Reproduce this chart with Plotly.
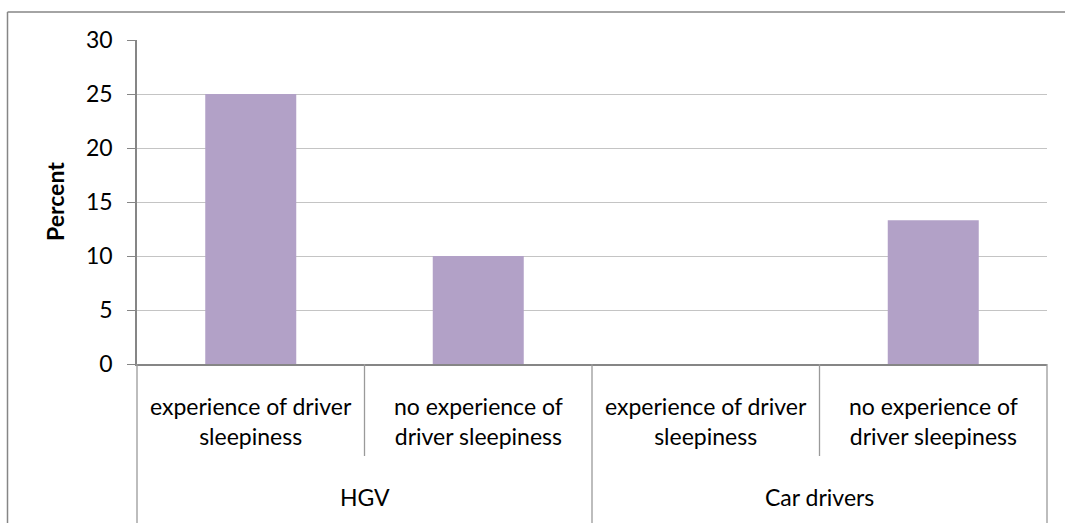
import plotly.graph_objects as go

# Survey shares by driver group and sleepiness experience
groups = ["HGV", "HGV", "Car drivers", "Car drivers"]
conditions = [
    "experience of driver<br>sleepiness",
    "no experience of<br>driver sleepiness",
    "experience of driver<br>sleepiness",
    "no experience of<br>driver sleepiness",
]
percent = [25, 10, 0, 13.3]
y_ticks = [0, 5, 10, 15, 20, 25, 30]

FONT = "Lato"
FS = 23
AXIS_GREY = "#868686"
DIV_GREY = "#9a9a9a"
BAR_COLOR = "#B2A1C7"

W, H = 1065, 523
L, R, T, B = 137, 18, 40, 159
PH = H - T - B
PW = W - L - R

positions = list(range(len(percent)))

fig = go.Figure(
    go.Bar(
        x=positions,
        y=percent,
        marker=dict(color=BAR_COLOR, line=dict(width=0)),
        width=0.4,
        hoverinfo="y",
    )
)


def paper_y(px):
    """Convert a page pixel row to paper units."""
    return (H - B - px) / PH


def paper_x(px):
    return (px - L) / PW


shapes = []
# divider lines of the two-level category axis
for i in range(len(positions) + 1):
    edge = i - 0.5
    if i == 0 or i == len(positions) or groups[i] != groups[i - 1]:
        bottom = paper_y(H)
    else:
        bottom = paper_y(456)
    if i == 0:
        xr, xv = "x domain", 0
    elif i == len(positions):
        xr, xv = "x domain", 1
    else:
        xr, xv = "x", edge
    shapes.append(dict(type="line", xref=xr, yref="paper", x0=xv, x1=xv,
                       y0=0, y1=bottom, line=dict(color=DIV_GREY, width=1.3)))

# chart frame: top and left edges
shapes.append(dict(type="line", xref="paper", yref="paper",
                   x0=paper_x(7.5), x1=paper_x(W), y0=paper_y(12), y1=paper_y(12),
                   line=dict(color=AXIS_GREY, width=1.5)))
shapes.append(dict(type="line", xref="paper", yref="paper",
                   x0=paper_x(7.5), x1=paper_x(7.5), y0=paper_y(12), y1=paper_y(H),
                   line=dict(color=AXIS_GREY, width=1.5)))

annotations = []
for i, c in enumerate(conditions):
    annotations.append(dict(x=i, xref="x", y=paper_y(420.5), yref="paper",
                            text=c, showarrow=False, xanchor="center", yanchor="middle",
                            font=dict(family=FONT, size=FS, color="#000")))

seen = []
for g in groups:
    if g not in seen:
        seen.append(g)
for g in seen:
    idx = [i for i, gg in enumerate(groups) if gg == g]
    annotations.append(dict(x=sum(idx) / len(idx), xref="x", y=paper_y(497), yref="paper",
                            text=g, showarrow=False, xanchor="center", yanchor="middle",
                            font=dict(family=FONT, size=FS, color="#000")))

annotations.append(dict(x=paper_x(55), xref="paper", y=0.5, yref="paper",
                        text="<b>Percent</b>", textangle=-90, showarrow=False,
                        xanchor="center", yanchor="middle",
                        font=dict(family=FONT, size=FS, color="#000")))

fig.update_layout(
    width=W, height=H,
    margin=dict(l=L, r=R, t=T, b=B, pad=0),
    paper_bgcolor="white", plot_bgcolor="white",
    showlegend=False,
    bargap=0.6,
    shapes=shapes,
    annotations=annotations,
    font=dict(family=FONT, size=FS, color="#000"),
    xaxis=dict(
        range=[-0.5, len(percent) - 0.5],
        showticklabels=False, ticks="",
        showgrid=False, zeroline=False,
        showline=True, linecolor=AXIS_GREY, linewidth=1.5,
        fixedrange=True,
    ),
    yaxis=dict(
        range=[0, 30],
        tickvals=y_ticks,
        ticks="outside", ticklen=8, tickcolor=AXIS_GREY, tickwidth=1.3,
        ticklabelstandoff=10,
        showgrid=True, gridcolor="#C4C4C4", gridwidth=1.2,
        zeroline=False,
        showline=True, linecolor=AXIS_GREY, linewidth=1.5,
        tickfont=dict(family=FONT, size=FS, color="#000"),
        fixedrange=True,
    ),
)

fig.write_html(
    "out.html",
    config={"displayModeBar": False},
    post_script="document.documentElement.style.overflow='hidden';"
                "document.body.style.overflow='hidden';",
)
